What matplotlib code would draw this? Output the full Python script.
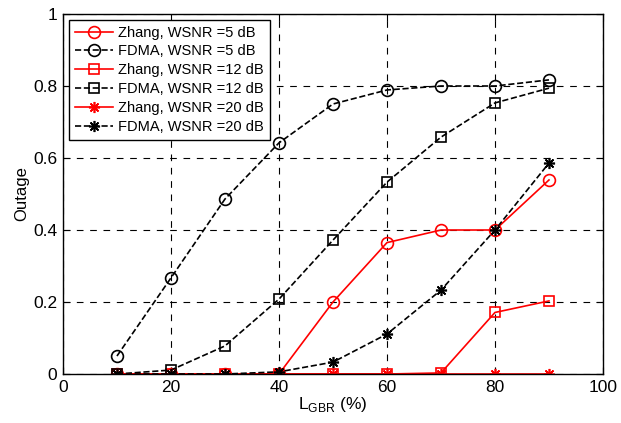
import matplotlib
matplotlib.use("Agg")
import matplotlib.pyplot as plt

plt.rcParams['font.family'] = ['Liberation Sans', 'DejaVu Sans']
plt.rcParams['mathtext.fontset'] = 'custom'
plt.rcParams['mathtext.rm'] = 'Liberation Sans'

L_gbr = [10, 20, 30, 40, 50, 60, 70, 80, 90]

zhang_5 = [0, 0, 0, 0, 0.200, 0.365, 0.400, 0.400, 0.539]
fdma_5 = [0.050, 0.267, 0.486, 0.642, 0.750, 0.789, 0.800, 0.800, 0.817]
zhang_12 = [0, 0, 0, 0, 0, 0, 0.003, 0.171, 0.203]
fdma_12 = [0, 0.011, 0.078, 0.208, 0.372, 0.533, 0.658, 0.753, 0.794]
zhang_20 = [0, 0, 0, 0, 0, 0, 0, 0, 0]
fdma_20 = [0, 0, 0, 0.006, 0.033, 0.111, 0.233, 0.400, 0.586]

asterisk = (8, 2, 0)
series = [
    ("Zhang, WSNR =5 dB", zhang_5, 'red', '-', 'o', 8.5),
    ("FDMA, WSNR =5 dB", fdma_5, 'black', '--', 'o', 8.5),
    ("Zhang, WSNR =12 dB", zhang_12, 'red', '-', 's', 7),
    ("FDMA, WSNR =12 dB", fdma_12, 'black', '--', 's', 7),
    ("Zhang, WSNR =20 dB", zhang_20, 'red', '-', asterisk, 8),
    ("FDMA, WSNR =20 dB", fdma_20, 'black', '--', asterisk, 8),
]

fig = plt.figure(figsize=(6.21, 4.23), dpi=100)
ax = fig.add_axes([0.1014, 0.1158, 0.8696, 0.8511])

for label, vals, color, ls, mk, ms in series:
    ax.plot(L_gbr, vals, color=color, linestyle=ls, marker=mk, markersize=ms,
            markerfacecolor='none', markeredgecolor=color, markeredgewidth=1.2,
            linewidth=1.2, label=label)

ax.set_xlim(0, 100)
ax.set_ylim(0, 1)
ax.set_xticks([0, 20, 40, 60, 80, 100])
ax.set_yticks([0, 0.2, 0.4, 0.6, 0.8, 1])
ax.set_yticklabels(['0', '0.2', '0.4', '0.6', '0.8', '1'])
ax.grid(True, color='black', linestyle=(0, (6, 6)), linewidth=0.8)
ax.tick_params(direction='in', top=True, right=True, labelsize=12.5, length=5, pad=4)
for s in ax.spines.values():
    s.set_linewidth(1.0)

ax.set_xlabel(r'L$_{\mathrm{GBR}}$ (%)', fontsize=12.5, labelpad=0)
ax.set_ylabel('Outage', fontsize=12, labelpad=3)

leg = ax.legend(loc='upper left', fontsize=10.5, fancybox=False, framealpha=1,
                edgecolor='black', handlelength=2.6, borderaxespad=0.4,
                labelspacing=0.33, borderpad=0.4, handletextpad=0.4)
leg.get_frame().set_linewidth(1.0)

fig.savefig('out.png', dpi=100)
